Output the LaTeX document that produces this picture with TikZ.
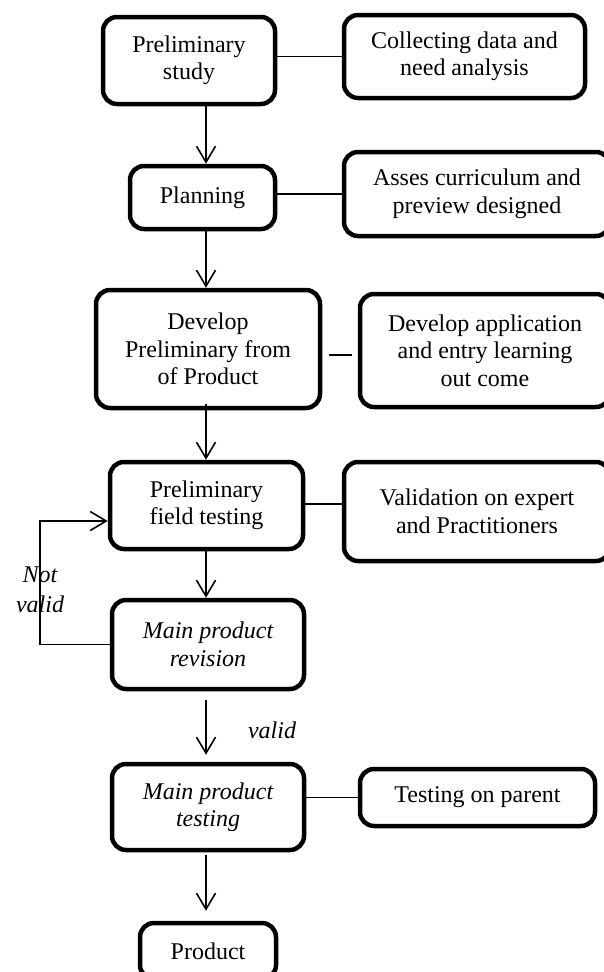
\documentclass[tikz,border=0pt]{standalone}
\usepackage{fontspec}
\setmainfont{Liberation Serif}
\usetikzlibrary{arrows.meta}
\begin{document}
\begin{tikzpicture}[x=1pt,y=-1pt,
  box/.style={draw=black, line width=4.5pt, rounded corners=14pt, inner sep=0pt,
    align=center, font=\fontsize{24}{27.5}\selectfont},
  lnk/.style={draw=black, line width=1.6pt},
  arr/.style={lnk, -{Straight Barb[length=16pt,width=19pt,line width=1.6pt]}},
  lbl/.style={inner sep=0pt, align=center, font=\fontsize{24}{30}\selectfont\itshape}]
\useasboundingbox (0,0) rectangle (603,972);
\fill[white] (0,0) rectangle (603,972);
\coordinate (ax) at (206,0);
\coordinate (lp) at (40,521);
% main column
\node[box, minimum width=172pt, minimum height=87pt] (b1) at (189,60.5) {Preliminary\\study};
\node[box, minimum width=145pt, minimum height=63pt] (b2) at (202.5,197.5) {Planning};
\node[box, minimum width=224pt, minimum height=118pt] (b3) at (208,349) {Develop\\Preliminary from\\of Product};
\node[box, minimum width=193pt, minimum height=87pt] (b4) at (206.5,505.5) {Preliminary\\field testing};
\node[box, minimum width=192pt, minimum height=89pt, font=\fontsize{24}{27.5}\selectfont\itshape] (b5) at (208,644.5) {Main product\\revision};
\node[box, minimum width=192pt, minimum height=86pt, font=\fontsize{24}{27.5}\selectfont\itshape] (b6) at (208,807) {Main product\\testing};
\node[box, minimum width=136pt, minimum height=56pt] (b7) at (208,951) {Product};
% right column
\node[box, minimum width=241pt, minimum height=83pt] (r1) at (464.5,56.5) {Collecting data and\\need analysis};
\node[box, minimum width=266pt, minimum height=84pt] (r2) at (477,194) {Asses curriculum and\\preview designed};
\node[box, minimum width=250pt, minimum height=113pt] (r3) at (485,350.5) {Develop application\\and entry learning\\out come};
\node[box, minimum width=266pt, minimum height=99pt] (r4) at (477,511.5) {Validation on expert\\and Practitioners};
\node[box, minimum width=235pt, minimum height=57pt] (r6) at (477.5,797.5) {Testing on parent};
% labels
\node[lbl] (nv) at (40,590) {Not\\valid};
\node[lbl] (vl) at (272,730) {valid};
% horizontal links
\draw[lnk] (b1.east |- r1.west) -- (r1.west);
\draw[lnk] (b2.east |- r2.west) -- (r2.west);
\draw[lnk, shorten <=7pt, shorten >=6pt] ([yshift=-6pt]b3.east) -- ([yshift=-6pt]b3.east -| r3.west);
\draw[lnk] ([yshift=1.5pt]b4.east) -- ([yshift=1.5pt]b4.east -| r4.west);
\draw[lnk] (b6.east |- r6.west) -- (r6.west);
% vertical arrows
\draw[arr] (b1.south -| ax) -- (b2.north -| ax);
\draw[arr] (b2.south -| ax) -- (b3.north -| ax);
\draw[arr, shorten <=-6pt] (b3.south -| ax) -- (b4.north -| ax);
\draw[arr] (b4.south -| ax) -- (b5.north -| ax);
\draw[arr, shorten <=9pt, shorten >=7pt] (b5.south -| ax) -- (b6.north -| ax);
\draw[arr, shorten <=3pt, shorten >=10pt] (b6.south -| ax) -- (b7.north -| ax);
% feedback loop
\draw[arr] (b5.west) -| (lp) -- (lp -| b4.west);
\end{tikzpicture}
\end{document}
